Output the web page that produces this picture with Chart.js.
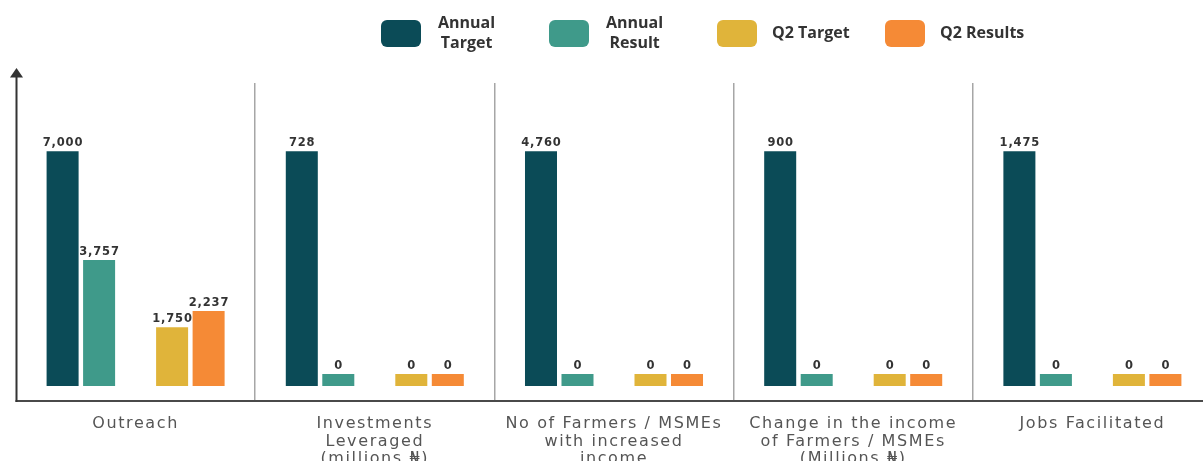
<!DOCTYPE html>
<html>
<head>
<meta charset="utf-8">
<script src="https://cdn.jsdelivr.net/npm/chart.js@4.4.1/dist/chart.umd.min.js"></script>
<style>
html, body { margin: 0; padding: 0; overflow: hidden; background: #ffffff; }
#wrap { position: relative; width: 1212px; height: 461px; }
</style>
</head>
<body>
<div id="wrap"><canvas id="chart"></canvas></div>
<script>
// ---- data ----
const categories = [
  'Outreach',
  ['Investments', 'Leveraged', '(millions ₦)'],
  ['No of Farmers / MSMEs', 'with increased', 'income'],
  ['Change in the income', 'of Farmers / MSMEs', '(Millions ₦)'],
  'Jobs Facilitated'
];
const annualTarget = [7000, 728, 4760, 900, 1475];
const annualResult = [3757, 0, 0, 0, 0];
const q2Target     = [1750, 0, 0, 0, 0];
const q2Results    = [2237, 0, 0, 0, 0];
const seriesNames  = [['Annual', 'Target'], ['Annual', 'Result'], ['Q2 Target'], ['Q2 Results']];

// ---- style ----
const seriesColors = ['#0b4b57', '#3f9a8a', '#e0b43a', '#f58a36'];
const seriesValues = [annualTarget, annualResult, q2Target, q2Results];
const targetFill = 0.775;      // share of plot height a category's target reaches
const legendStart = 381, legendSlot = 168;

// each category has its own value scale (bars normalised to that category's target)
const datasets = [];
function addSeries(k) {
  categories.forEach((_, c) => {
    datasets.push({
      label: seriesNames[k].join(' '),
      data: categories.map((__, j) => (j === c ? seriesValues[k][c] : null)),
      yAxisID: 'y' + c,
      backgroundColor: seriesColors[k],
      minBarLength: 12,
      skipNull: true,
      categoryPercentage: 0.763,
      barPercentage: 0.877,
      showValue: true
    });
  });
}
addSeries(0);
addSeries(1);
// empty gap between the annual pair and the Q2 pair
datasets.push({
  label: '',
  data: categories.map(() => 0),
  yAxisID: 'y0',
  backgroundColor: 'rgba(0,0,0,0)',
  skipNull: true,
  categoryPercentage: 0.763,
  barPercentage: 0.877,
  showValue: false
});
addSeries(2);
addSeries(3);

const scales = {
  x: {
    type: 'category',
    grid: {
      offset: true,
      drawTicks: true,
      tickLength: 15,
      lineWidth: 1.5,
      color: (ctx) => (ctx.type !== 'tick' || ctx.index === 0) ? 'rgba(0,0,0,0)' : '#a6a6a6'
    },
    border: { display: false },
    ticks: {
      font: { family: '"DejaVu Sans"', size: 16, lineHeight: 1.1 },
      color: '#555555',
      padding: 14,
      maxRotation: 0,
      autoSkip: false
    },
    afterFit: (s) => { s.height = 75; }
  }
};
categories.forEach((_, c) => {
  scales['y' + c] = { display: false, min: 0, max: annualTarget[c] / targetFill };
});

const decor = {
  id: 'decor',
  beforeDraw(chart) { chart.ctx.letterSpacing = '1.6px'; },
  beforeDatasetsDraw(chart) { chart.ctx.letterSpacing = '0px'; },
  afterDraw(chart) {
    const ctx = chart.ctx;
    const area = chart.chartArea;
    ctx.save();
    ctx.letterSpacing = '0px';
    // axes
    const axisY = area.bottom + 15;
    const axisX = area.left + 0.5;
    ctx.lineWidth = 2;
    ctx.strokeStyle = '#4a4a4a';
    ctx.beginPath();
    ctx.moveTo(axisX - 1, axisY);
    ctx.lineTo(chart.width, axisY);
    ctx.stroke();
    ctx.strokeStyle = '#333333';
    ctx.beginPath();
    ctx.moveTo(axisX, axisY + 1);
    ctx.lineTo(axisX, 76);
    ctx.stroke();
    ctx.fillStyle = '#333333';
    ctx.beginPath();
    ctx.moveTo(axisX, 68);
    ctx.lineTo(axisX - 6.5, 77.5);
    ctx.lineTo(axisX + 6.5, 77.5);
    ctx.closePath();
    ctx.fill();

    // value labels
    ctx.font = 'bold 11.5px "DejaVu Sans"';
    ctx.letterSpacing = '0.8px';
    ctx.fillStyle = '#333333';
    ctx.textAlign = 'center';
    ctx.textBaseline = 'alphabetic';
    chart.data.datasets.forEach((ds, i) => {
      if (!ds.showValue) return;
      const meta = chart.getDatasetMeta(i);
      meta.data.forEach((el, j) => {
        const v = ds.data[j];
        if (v === null || v === undefined) return;
        ctx.fillText(v.toLocaleString('en-US'), el.x + 0.4, el.y - 5);
      });
    });

    // legend
    ctx.letterSpacing = '0px';
    ctx.font = 'bold 16px "Open Sans"';
    seriesNames.forEach((lines, i) => {
      const bx = legendStart + i * legendSlot;
      const by = 20, bw = 40, bh = 27;
      ctx.fillStyle = seriesColors[i];
      ctx.beginPath();
      ctx.roundRect(bx, by, bw, bh, 6);
      ctx.fill();
      ctx.fillStyle = '#333333';
      ctx.textBaseline = 'middle';
      const cy = by + bh / 2;
      if (lines.length > 1) {
        const w = Math.max(...lines.map(l => ctx.measureText(l).width));
        ctx.textAlign = 'center';
        const tx = bx + 57 + w / 2;
        ctx.fillText(lines[0], tx, cy - 9.6);
        ctx.fillText(lines[1], tx, cy + 9.6);
      } else {
        ctx.textAlign = 'left';
        ctx.fillText(lines[0], bx + 55, cy);
      }
    });
    ctx.restore();
  }
};

new Chart(document.getElementById('chart'), {
  type: 'bar',
  data: { labels: categories, datasets },
  options: {
    responsive: true,
    maintainAspectRatio: false,
    animation: false,
    layout: { padding: { top: 83, left: 16, right: 0, bottom: 0 } },
    scales,
    plugins: {
      legend: { display: false },
      tooltip: { enabled: false }
    }
  },
  plugins: [decor]
});
</script>
</body>
</html>
